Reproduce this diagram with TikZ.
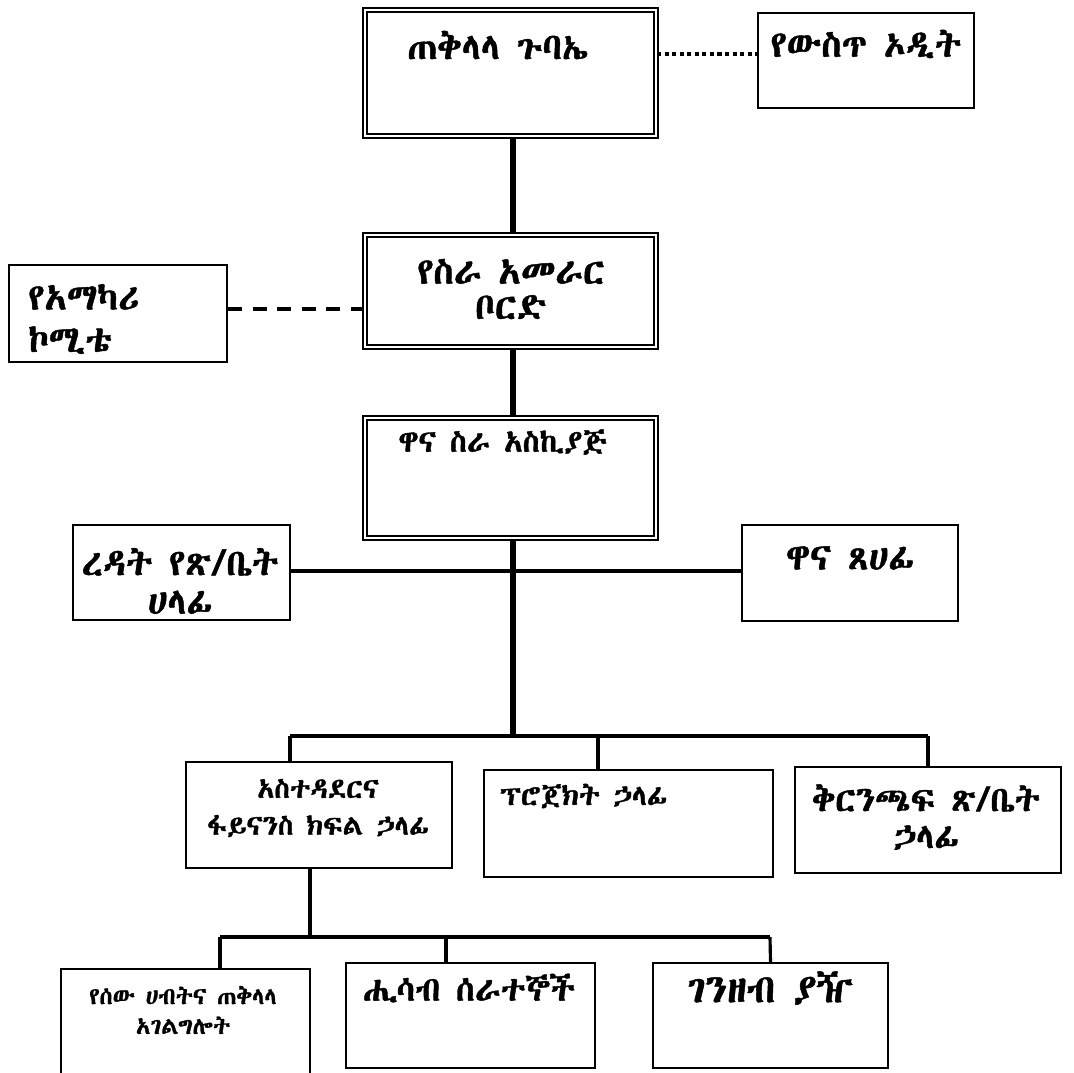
\documentclass[tikz,border=0pt]{standalone}
\usepackage{fontspec}
\IfFontExistsTF{Abyssinica SIL}{\setmainfont{Abyssinica SIL}[FakeBold=1.2]}{%
  \IfFontExistsTF{FreeSerif}{\setmainfont{FreeSerif}[FakeBold=1.2]}{%
    \IfFontExistsTF{Noto Sans Ethiopic}{\setmainfont{Noto Sans Ethiopic}}{%
      \setmainfont{DejaVu Sans}}}}
\usetikzlibrary{positioning}
\tikzset{box/.style={draw, line width=1.1pt, inner sep=0pt}}
\tikzset{dbox/.style={draw, double, line width=1.2pt, double distance=1.3pt, inner sep=0pt}}
\tikzset{l/.style={font=\fontsize{21}{24}\selectfont, inner sep=0pt, align=center}}
\tikzset{m/.style={font=\fontsize{16}{21}\selectfont, inner sep=0pt, align=center}}
\tikzset{s/.style={font=\fontsize{13.5}{17}\selectfont, inner sep=0pt, align=center}}
\tikzset{trunk/.style={line width=3.4pt}}
\tikzset{bus/.style={line width=2.8pt}}
\tikzset{twig/.style={line width=1.8pt}}

\begin{document}
\begin{tikzpicture}[x=0.02cm, y=-0.02cm]
        \useasboundingbox (0,0) rectangle (1074,1072);
        % top levels
        \node[dbox, minimum width=5.82cm, minimum height=2.52cm] (gb) at (510.5,73) {};
        \node[l] (gb-t) at (498,45) {ጠቅላላ ጉባኤ};
        \node[box, minimum width=4.32cm, minimum height=1.9cm] (od) at (866,60.5) {};
        \node[l] (od-t) at (866,44) {የውስጥ ኦዲት};
        \node[dbox, minimum width=5.82cm, minimum height=2.24cm] (board) at (510.5,291) {};
        \node[l, font=\fontsize{21}{20}\selectfont] (board-t) at (511,289) {የስራ አመራር\\ቦርድ};
        \node[box, minimum width=4.36cm, minimum height=1.94cm] (adv) at (118,313.5) {};
        \node[l, align=left, anchor=west] (adv-t) at (28,319) {የአማካሪ\\ኮሚቴ};
        \node[dbox, minimum width=5.82cm, minimum height=2.4cm] (ceo) at (510.5,478) {};
        \node[l, font=\fontsize{17.5}{21}\selectfont, anchor=west] (ceo-t) at (398,442) {ዋና ስራ አስኪያጅ};
        % staff
        \node[box, minimum width=4.34cm, minimum height=1.9cm] (asst) at (181.5,572.5) {};
        \node[l, font=\fontsize{21}{22}\selectfont] (asst-t) at (180,581) {ረዳት የጽ/ቤት\\ሀላፊ};
        \node[box, minimum width=4.32cm, minimum height=1.92cm] (sec) at (850,573) {};
        \node[l] (sec-t) at (850,558) {ዋና ጸሀፊ};
        % departments
        \node[box, minimum width=5.32cm, minimum height=2.12cm] (admin) at (319,815) {};
        \node[m] (admin-t) at (318,808) {አስተዳደርና\\ፋይናንስ ክፍል ኃላፊ};
        \node[box, minimum width=5.78cm, minimum height=2.14cm] (proj) at (628.5,823.5) {};
        \node[m, font=\fontsize{16.5}{21}\selectfont, anchor=west] (proj-t) at (500,796) {ፕሮጀክት ኃላፊ};
        \node[box, minimum width=5.32cm, minimum height=2.12cm] (branch) at (928,820) {};
        \node[l, font=\fontsize{20}{21}\selectfont] (branch-t) at (926,817) {ቅርንጫፍ ጽ/ቤት\\ኃላፊ};
        % sections
        \node[box, minimum width=4.98cm, minimum height=2.4cm] (hr) at (185.5,1029) {};
        \node[s] (hr-t) at (183,1010) {የሰው ሀብትና ጠቅላላ\\አገልግሎት};
        \node[box, minimum width=4.98cm, minimum height=2.1cm] (acc) at (470.5,1015.5) {};
        \node[l, font=\fontsize{19.5}{21}\selectfont] (acc-t) at (469,988) {ሒሳብ ሰራተኞች};
        \node[box, minimum width=4.7cm, minimum height=2.1cm] (cash) at (770.5,1015.5) {};
        \node[l, font=\fontsize{22.5}{24}\selectfont] (cash-t) at (770,988) {ገንዘብ ያዥ};
        % connectors
        \draw[line width=2.3pt, dotted] (gb.east |- 0,54) -- (od.west |- 0,54);
        \draw[line width=2.3pt, dash pattern=on 8pt off 6pt] (adv.east |- 0,309) -- (board.west |- 0,309);
        \draw[trunk] (gb.south -| 513,0) -- (board.north -| 513,0);
        \draw[trunk] (board.south -| 513,0) -- (ceo.north -| 513,0);
        \coordinate (b1) at (513,571);
        \coordinate (b2) at (513,736);
        \draw[trunk] (ceo.south -| b1) -- (b2);
        \draw[bus] (asst.east |- b1) -- (sec.west |- b1);
        \draw[bus] (290,736) -- (928,736);
        \draw[twig] (290,736) -- (admin.north -| 290,0);
        \draw[twig] (598,736) -- (proj.north -| 598,0);
        \draw[twig] (928,736) -- (branch.north);
        \coordinate (b3) at (310,937);
        \draw[twig] (admin.south -| b3) -- (b3);
        \draw[bus] (220,937) -- (770,937);
        \draw[twig] (220,937) -- (hr.north -| 220,0);
        \draw[twig] (446,937) -- (acc.north -| 446,0);
        \draw[twig] (770,937) -- (cash.north);
\end{tikzpicture}
\end{document}
